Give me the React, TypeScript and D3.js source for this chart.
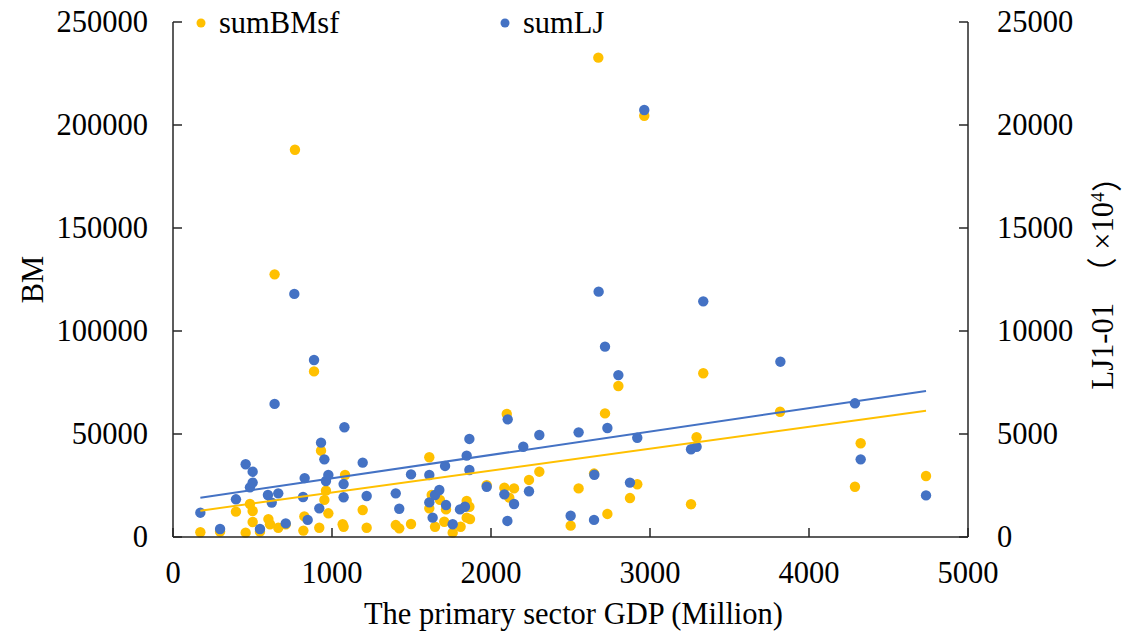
import React from "react";
import * as d3 from "d3";

const xTicks = [0, 1000, 2000, 3000, 4000, 5000];
const leftTicks = [0, 50000, 100000, 150000, 200000, 250000];
const rightTicks = [0, 5000, 10000, 15000, 20000, 25000];

// sumBMsf: [GDP, BM]
const bmPoints: [number, number][] = [
  [172, 2300], [296, 2600], [396, 12300], [457, 2100], [484, 16000], [501, 12600], [501, 7300],
  [547, 2600], [600, 8700], [610, 6200], [639, 127500], [662, 4500], [709, 6200], [767, 188000],
  [820, 3100], [826, 10000], [887, 80400], [920, 4500], [931, 41900], [952, 18000], [962, 22500],
  [977, 11500], [1067, 6200], [1073, 5000], [1082, 30100], [1193, 13100], [1218, 4500],
  [1401, 5800], [1423, 4200], [1497, 6300], [1612, 38700], [1612, 13900], [1627, 20400],
  [1648, 5000], [1679, 18000], [1706, 7400], [1717, 13400], [1759, 2100], [1809, 5000],
  [1847, 17500], [1847, 9400], [1864, 14700], [1868, 8700], [1973, 25200], [2084, 23900],
  [2099, 59700], [2115, 19100], [2145, 23600], [2239, 27700], [2304, 31700], [2501, 5500],
  [2551, 23600], [2648, 30800], [2675, 232700], [2717, 60000], [2732, 11200], [2801, 73300],
  [2874, 18900], [2920, 25600], [2964, 204500], [3258, 15900], [3293, 48400], [3335, 79500],
  [3818, 60800], [4289, 24400], [4325, 45500], [4736, 29600],
];

// sumLJ: [GDP, LJ1-01 (x10^4)]
const ljPoints: [number, number][] = [
  [172, 1180], [296, 390], [396, 1830], [457, 3530], [484, 2410], [501, 3170], [501, 2640],
  [547, 390], [597, 2040], [621, 1670], [639, 6460], [662, 2120], [709, 660], [763, 11800],
  [818, 1940], [828, 2860], [847, 830], [887, 8590], [920, 1390], [931, 4580], [952, 3770],
  [962, 2720], [977, 3010], [1073, 2570], [1073, 1930], [1078, 5330], [1193, 3610], [1218, 1990],
  [1401, 2120], [1423, 1370], [1497, 3040], [1612, 3010], [1612, 1680], [1633, 940], [1648, 2040],
  [1675, 2280], [1711, 3450], [1717, 1550], [1759, 620], [1805, 1340], [1836, 1470], [1847, 3950],
  [1864, 4760], [1864, 3250], [1973, 2440], [2084, 2070], [2103, 780], [2105, 5710], [2145, 1600],
  [2203, 4380], [2239, 2220], [2304, 4950], [2501, 1030], [2551, 5080], [2648, 830], [2650, 3020],
  [2677, 11910], [2717, 9240], [2732, 5290], [2801, 7860], [2874, 2640], [2920, 4820],
  [2964, 20730], [3258, 4260], [3293, 4380], [3335, 11440], [3820, 8510], [4289, 6490],
  [4325, 3770], [4736, 2020],
];

// linear trend lines: [slope, intercept]
const bmTrend: [number, number] = [10.63, 10970];
const ljTrend: [number, number] = [1.135, 1715];

const seriesNames = ["sumBMsf", "sumLJ"];
const colors = ["#FFC000", "#4472C4"];

const W = 1124, H = 636;
const L = 173, R = 968, T = 22, B = 537;
const FONT = "'Liberation Serif', 'Times New Roman', 'Noto Sans CJK SC', serif";

export default function App() {
  const x = d3.scaleLinear().domain([0, 5000]).range([L, R]);
  const yL = d3.scaleLinear().domain([0, 250000]).range([B, T]);
  const yR = d3.scaleLinear().domain([0, 25000]).range([B, T]);

  const bmExt = d3.extent(bmPoints, (d) => d[0]) as [number, number];
  const ljExt = d3.extent(ljPoints, (d) => d[0]) as [number, number];
  const lineL = d3.line<number>().x((g) => x(g)).y((g) => yL(bmTrend[0] * g + bmTrend[1]));
  const lineR = d3.line<number>().x((g) => x(g)).y((g) => yR(ljTrend[0] * g + ljTrend[1]));

  const fs = 30.5;
  const tick = 9;

  return (
    <svg width={W} height={H} style={{ position: "absolute", left: 0, top: 0, background: "#fff" }} fontFamily={FONT}>
      <rect width={W} height={H} fill="#fff" />
      {bmPoints.map((d, i) => (
        <circle key={"b" + i} cx={x(d[0])} cy={yL(d[1])} r={5.2} fill={colors[0]} />
      ))}
      {ljPoints.map((d, i) => (
        <circle key={"l" + i} cx={x(d[0])} cy={yR(d[1])} r={5.2} fill={colors[1]} />
      ))}
      <path d={lineL(bmExt) || ""} stroke={colors[0]} strokeWidth={2} fill="none" />
      <path d={lineR(ljExt) || ""} stroke={colors[1]} strokeWidth={2} fill="none" />

      <g stroke="#262626" strokeWidth={1.5}>
        <line x1={L} y1={T} x2={L} y2={B} />
        <line x1={R} y1={T} x2={R} y2={B} />
        <line x1={L} y1={B} x2={R} y2={B} />
        {leftTicks.map((t) => (
          <line key={"lt" + t} x1={L} x2={L + tick} y1={yL(t)} y2={yL(t)} />
        ))}
        {rightTicks.map((t) => (
          <line key={"rt" + t} x1={R - tick} x2={R} y1={yR(t)} y2={yR(t)} />
        ))}
        {xTicks.map((t) => (
          <line key={"xt" + t} x1={x(t)} x2={x(t)} y1={B} y2={B - tick} />
        ))}
      </g>
      <g fontSize={fs} fill="#000">
        {leftTicks.map((t) => (
          <text key={"ll" + t} x={L - 25} y={yL(t) + 10} textAnchor="end">{t}</text>
        ))}
        {rightTicks.map((t) => (
          <text key={"rl" + t} x={R + 29} y={yR(t) + 10} textAnchor="start">{t}</text>
        ))}
        {xTicks.map((t) => (
          <text key={"xl" + t} x={x(t)} y={583} textAnchor="middle">{t}</text>
        ))}
        <text x={(L + R) / 2 + 3} y={624} textAnchor="middle">The primary sector GDP (Million)</text>
        <text transform={`translate(43,${(T + B) / 2}) rotate(-90)`} textAnchor="middle">BM</text>
        <text transform={`translate(1113,${(T + B) / 2 - 4}) rotate(-90)`} textAnchor="middle">
          LJ1-01　（ ×10<tspan dy="-0.45em" fontSize={fs * 0.65}>4</tspan><tspan dy="0.45em">）</tspan>
        </text>
      </g>
      <g fontSize={fs}>
        <circle cx={201} cy={23} r={4.5} fill={colors[0]} />
        <text x={219} y={32.5}>{seriesNames[0]}</text>
        <circle cx={505} cy={23} r={4.5} fill={colors[1]} />
        <text x={523} y={32.5}>{seriesNames[1]}</text>
      </g>
    </svg>
  );
}
